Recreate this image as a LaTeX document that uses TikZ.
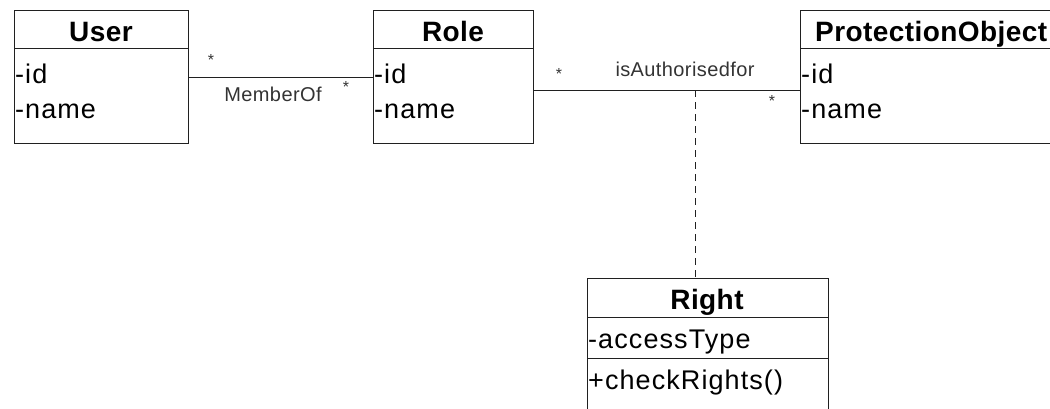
\documentclass[tikz,border=0pt]{standalone}
\usepackage{fontspec}
\setmainfont{Liberation Sans}
\newfontfamily\attrfont[LetterSpace=4]{Liberation Sans}
\newfontfamily\headfont[LetterSpace=1.5]{Liberation Sans}
\newfontfamily\lblfont[LetterSpace=2]{Liberation Sans}
\definecolor{linec}{HTML}{202020}
\definecolor{lblc}{HTML}{333333}
\tikzset{
  classbox/.style={draw=linec, line width=1pt, anchor=north west, inner sep=0pt},
  sep/.style={draw=linec, line width=1pt},
  title/.style={anchor=base, inner sep=0pt, font=\headfont\bfseries\fontsize{28}{32}\selectfont},
  attr/.style={anchor=base west, inner sep=0pt, font=\attrfont\fontsize{27}{30}\selectfont},
  assoc/.style={draw=linec, line width=1pt},
  assoclbl/.style={anchor=base, inner sep=0pt, text=lblc, font=\lblfont\fontsize{20}{23}\selectfont},
  mult/.style={anchor=center, inner sep=0pt, text=lblc, font=\fontsize{16}{18}\selectfont},
  assocclass/.style={draw=linec, line width=1pt, dash pattern=on 7pt off 5pt}
}
\begin{document}
\begin{tikzpicture}[x=1pt, y=-1pt]
\useasboundingbox (0,0) rectangle (1050,408);
\clip (0,0) rectangle (1050,408);
% User
\node[classbox, minimum width=174pt, minimum height=133pt] (user) at (14,10) {};
\draw[sep] (14,48) -- (188,48);
\node[title] (usert) at (101,41) {User};
\node[attr] (userid) at (15,83) {-id};
\node[attr] (usern) at (15,118) {-name};
% Role
\node[classbox, minimum width=160pt, minimum height=133pt] (role) at (373,10) {};
\draw[sep] (373,48) -- (533,48);
\node[title] (rolet) at (453,41) {Role};
\node[attr] (roleid) at (374,83) {-id};
\node[attr] (rolen) at (374,118) {-name};
% ProtectionObject
\node[classbox, minimum width=270pt, minimum height=133pt] (po) at (800,10) {};
\draw[sep] (800,48) -- (1060,48);
\node[title, anchor=base west] (pot) at (815,41) {ProtectionObject};
\node[attr] (poid) at (801,83) {-id};
\node[attr] (pon) at (801,118) {-name};
% Right
\node[classbox, minimum width=241pt, minimum height=150pt] (right) at (587,278) {};
\draw[sep] (587,317) -- (828,317);
\draw[sep] (587,358) -- (828,358);
\node[title] (rightt) at (707,309) {Right};
\node[attr] (righta) at (588,348) {-accessType};
\node[attr] (rightm) at (588,389) {+checkRights()};
% MemberOf
\coordinate (m1) at (188,77);
\coordinate (m2) at (373,77);
\draw[assoc] (m1) -- (m2);
\node[mult] (mu1) at (211,60) {*};
\node[mult] (mu2) at (346,87) {*};
\node[assoclbl] (mlbl) at (273,101) {MemberOf};
% isAuthorisedfor
\coordinate (a1) at (533,90);
\coordinate (a2) at (800,90);
\draw[assoc] (a1) -- (a2);
\node[mult] (au1) at (559,74) {*};
\node[mult] (au2) at (772,101) {*};
\node[assoclbl] (albl) at (685,76) {isAuthorisedfor};
\coordinate (ac) at (695,90);
\draw[assocclass] (ac) -- (ac |- right.north);
\end{tikzpicture}
\end{document}
